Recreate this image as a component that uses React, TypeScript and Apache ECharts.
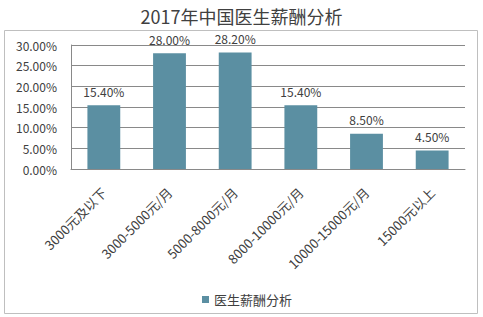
import React, { useEffect, useRef } from "react";
import * as echarts from "echarts";

const categories = ["3000元及以下", "3000-5000元/月", "5000-8000元/月", "8000-10000元/月", "10000-15000元/月", "15000元以上"];
const values = [15.4, 28.0, 28.2, 15.4, 8.5, 4.5];
const seriesName = "医生薪酬分析";
const titleText = "2017年中国医生薪酬分析";

const FONT = "'Noto Sans CJK SC', 'Microsoft YaHei', sans-serif";

export default function App() {
  const ref = useRef<HTMLDivElement>(null);
  useEffect(() => {
    if (!ref.current) return;
    const chart = echarts.init(ref.current, null, { renderer: "svg" });
    chart.setOption({
      animation: false,
      backgroundColor: "#ffffff",
      textStyle: { fontFamily: FONT },
      title: {
        text: titleText,
        left: "center",
        top: 2,
        textStyle: { fontSize: 18, fontWeight: "normal", color: "#404040", fontFamily: FONT },
      },
      graphic: [
        {
          type: "rect",
          shape: { x: 4.5, y: 30.5, width: 473, height: 283 },
          style: { fill: "none", stroke: "#bfbfbf", lineWidth: 1 },
          silent: true,
          z: -1,
        },
      ],
      legend: {
        data: [seriesName],
        left: 197,
        top: 288,
        icon: "rect",
        itemWidth: 7,
        itemHeight: 7,
        itemGap: 4,
        textStyle: { fontSize: 13, color: "#404040", fontFamily: FONT },
      },
      grid: { left: 71, right: 18, top: 45, bottom: 148, containLabel: false },
      xAxis: {
        type: "category",
        data: categories,
        axisLine: { show: true, lineStyle: { color: "#898989" } },
        axisTick: { show: false },
        axisLabel: { rotate: 45, interval: 0, fontSize: 13, color: "#404040", margin: 21, fontFamily: FONT },
      },
      yAxis: {
        type: "value",
        min: 0,
        max: 30,
        interval: 5,
        axisLine: { show: true, lineStyle: { color: "#898989" } },
        axisTick: { show: false },
        splitLine: { lineStyle: { color: "#898989" } },
        axisLabel: {
          fontSize: 12,
          color: "#404040",
          margin: 14,
          fontFamily: FONT,
          formatter: (v: number) => v.toFixed(2) + "%",
        },
      },
      series: [
        {
          name: seriesName,
          type: "bar",
          data: values,
          barWidth: "50%",
          itemStyle: { color: "#5b8fa2" },
          label: {
            show: true,
            position: "top",
            distance: 8,
            fontSize: 12,
            color: "#404040",
            fontFamily: FONT,
            formatter: (p: any) => p.value.toFixed(2) + "%",
          },
        },
      ],
    });
    return () => chart.dispose();
  }, []);
  return <div ref={ref} style={{ width: 483, height: 317, position: "absolute", left: 0, top: 0 }} />;
}
